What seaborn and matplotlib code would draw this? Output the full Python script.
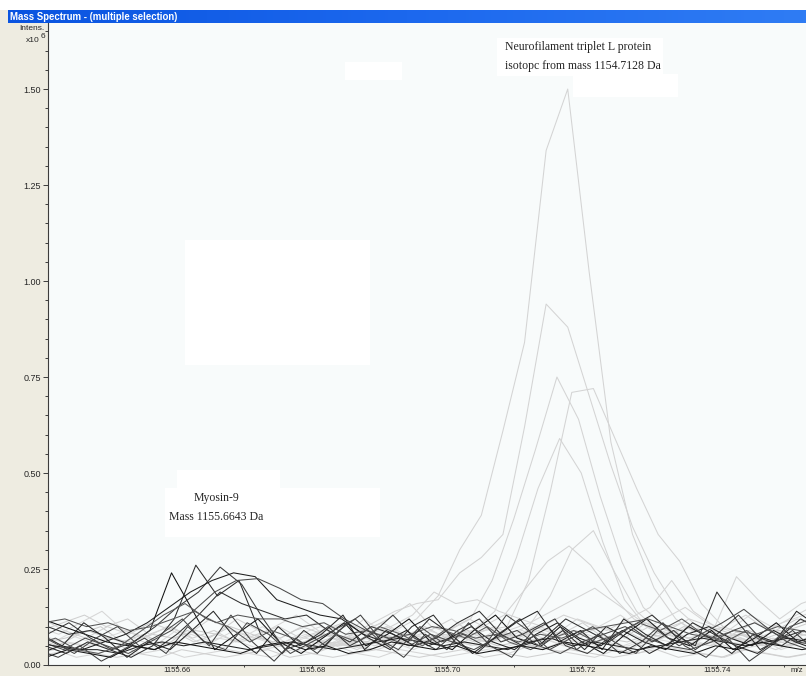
import numpy as np
import matplotlib
matplotlib.use("Agg")
import matplotlib.pyplot as plt
import seaborn as sns
from matplotlib.patches import Rectangle
from matplotlib.colors import LinearSegmentedColormap
from matplotlib.ticker import FormatStrFormatter, MultipleLocator

# m/z sampling step of the spectra
step = 0.0032

# dark spectra (Myosin-9 selection)
black_starts = [1155.6400, 1155.6404, 1155.6408, 1155.6396, 1155.6400, 1155.6408,
                1155.6386, 1155.6402, 1155.6392, 1155.6398, 1155.6388, 1155.6406, 1155.6384]
black_lines = [
    [0.12, 0.10, 0.08, 0.06, 0.05, 0.09, 0.24, 0.14, 0.04, 0.08, 0.12, 0.06, 0.03, 0.07, 0.11, 0.05, 0.08, 0.12, 0.06, 0.04,
     0.09, 0.13, 0.07, 0.05, 0.10, 0.06, 0.03, 0.08, 0.12, 0.07, 0.05, 0.09, 0.04, 0.07, 0.11, 0.06, 0.08],
    [0.05, 0.03, 0.06, 0.04, 0.02, 0.05, 0.12, 0.26, 0.18, 0.22, 0.08, 0.03, 0.09, 0.05, 0.11, 0.07, 0.04, 0.10, 0.13, 0.06,
     0.03, 0.08, 0.12, 0.05, 0.09, 0.04, 0.10, 0.07, 0.03, 0.06, 0.11, 0.08, 0.05, 0.03, 0.07, 0.12, 0.09],
    [0.08, 0.11, 0.07, 0.04, 0.06, 0.10, 0.15, 0.19, 0.255, 0.21, 0.12, 0.04, 0.06, 0.10, 0.05, 0.08, 0.13, 0.07, 0.04, 0.09,
     0.12, 0.06, 0.08, 0.11, 0.05, 0.03, 0.07, 0.10, 0.06, 0.09, 0.04, 0.08, 0.13, 0.07, 0.05, 0.09, 0.06],
    [0.03, 0.05, 0.04, 0.06, 0.08, 0.11, 0.15, 0.19, 0.22, 0.24, 0.23, 0.17, 0.15, 0.13, 0.12, 0.08, 0.06, 0.09, 0.05, 0.07,
     0.10, 0.06, 0.04, 0.08, 0.11, 0.07, 0.05, 0.09, 0.06, 0.04, 0.08, 0.10, 0.07, 0.05, 0.09, 0.06, 0.04],
    [0.06, 0.04, 0.07, 0.05, 0.03, 0.06, 0.09, 0.14, 0.19, 0.22, 0.225, 0.20, 0.17, 0.16, 0.12, 0.09, 0.07, 0.05, 0.08, 0.06,
     0.04, 0.07, 0.09, 0.05, 0.03, 0.06, 0.08, 0.10, 0.07, 0.05, 0.04, 0.06, 0.09, 0.11, 0.08, 0.06, 0.05],
    [0.10, 0.08, 0.09, 0.07, 0.05, 0.04, 0.08, 0.13, 0.19, 0.16, 0.14, 0.12, 0.13, 0.09, 0.06, 0.10, 0.08, 0.05, 0.07, 0.11,
     0.14, 0.08, 0.05, 0.07, 0.12, 0.09, 0.06, 0.10, 0.13, 0.08, 0.05, 0.19, 0.11, 0.04, 0.07, 0.09, 0.06],
    [0.06, 0.05, 0.04, 0.04, 0.03, 0.05, 0.06, 0.05, 0.06, 0.05, 0.04, 0.05, 0.06, 0.05, 0.04, 0.05, 0.06, 0.07, 0.06, 0.05,
     0.06, 0.05, 0.04, 0.06, 0.07, 0.05, 0.06, 0.05, 0.04, 0.05, 0.06, 0.07, 0.06, 0.05, 0.06, 0.07, 0.06],
    [0.11, 0.12, 0.10, 0.11, 0.09, 0.10, 0.12, 0.14, 0.11, 0.13, 0.12, 0.12, 0.10, 0.11, 0.08, 0.09, 0.07, 0.08, 0.10, 0.09,
     0.07, 0.08, 0.06, 0.08, 0.07, 0.09, 0.10, 0.11, 0.12, 0.10, 0.08, 0.07, 0.09, 0.08, 0.10, 0.09, 0.08],
    [0.04, 0.02, 0.05, 0.01, 0.04, 0.07, 0.03, 0.10, 0.05, 0.13, 0.06, 0.01, 0.07, 0.03, 0.09, 0.13, 0.06, 0.02, 0.08, 0.04,
     0.11, 0.05, 0.02, 0.09, 0.12, 0.04, 0.08, 0.03, 0.06, 0.11, 0.05, 0.02, 0.07, 0.01, 0.05, 0.09, 0.04],
    [0.08, 0.05, 0.11, 0.07, 0.02, 0.06, 0.04, 0.09, 0.14, 0.07, 0.03, 0.10, 0.05, 0.08, 0.13, 0.04, 0.09, 0.06, 0.12, 0.08,
     0.03, 0.07, 0.11, 0.14, 0.06, 0.09, 0.04, 0.12, 0.08, 0.05, 0.10, 0.07, 0.03, 0.08, 0.06, 0.14, 0.10],
    [0.05, 0.07, 0.04, 0.03, 0.05, 0.09, 0.13, 0.16, 0.12, 0.10, 0.06, 0.09, 0.07, 0.04, 0.08, 0.06, 0.10, 0.08, 0.05, 0.09,
     0.07, 0.10, 0.06, 0.04, 0.07, 0.09, 0.06, 0.08, 0.11, 0.09, 0.12, 0.08, 0.06, 0.09, 0.05, 0.10, 0.12],
    [0.02, 0.04, 0.03, 0.02, 0.05, 0.04, 0.06, 0.05, 0.04, 0.03, 0.05, 0.06, 0.04, 0.05, 0.03, 0.04, 0.06, 0.05, 0.04, 0.05,
     0.03, 0.04, 0.05, 0.04, 0.06, 0.05, 0.04, 0.03, 0.05, 0.04, 0.03, 0.05, 0.04, 0.06, 0.05, 0.04, 0.05],
    [0.09, 0.06, 0.03, 0.07, 0.10, 0.05, 0.08, 0.12, 0.06, 0.04, 0.11, 0.08, 0.03, 0.06, 0.09, 0.12, 0.07, 0.04, 0.10, 0.06,
     0.08, 0.05, 0.13, 0.09, 0.04, 0.07, 0.10, 0.06, 0.03, 0.09, 0.05, 0.08, 0.11, 0.145, 0.10, 0.06, 0.04],
]
black_colors = ["#111111", "#2b2b2b", "#3a3a3a", "#1e1e1e", "#4a4a4a", "#303030", "#222222",
                "#555555", "#3f3f3f", "#262626", "#5a5a5a", "#151515", "#484848"]

# light background spectra
gray_starts = [1155.6399, 1155.6405, 1155.6391, 1155.6387, 1155.6401, 1155.6407,
               1155.6403, 1155.6393, 1155.6383, 1155.6397]
gray_lines = [
    [0.09, 0.11, 0.13, 0.10, 0.12, 0.08, 0.10, 0.07, 0.09, 0.06, 0.08, 0.10, 0.07, 0.09, 0.11, 0.08, 0.10, 0.07, 0.09, 0.12,
     0.08, 0.10, 0.07, 0.09, 0.06, 0.08, 0.10, 0.07, 0.11, 0.09, 0.12, 0.10, 0.08, 0.11, 0.09, 0.12, 0.10],
    [0.04, 0.06, 0.05, 0.07, 0.05, 0.04, 0.06, 0.05, 0.07, 0.06, 0.04, 0.05, 0.07, 0.06, 0.05, 0.04, 0.06, 0.05, 0.07, 0.06,
     0.05, 0.04, 0.06, 0.07, 0.05, 0.06, 0.04, 0.05, 0.07, 0.06, 0.05, 0.06, 0.04, 0.05, 0.07, 0.06, 0.05],
    [0.07, 0.05, 0.08, 0.10, 0.06, 0.08, 0.05, 0.09, 0.07, 0.10, 0.08, 0.06, 0.09, 0.11, 0.07, 0.05, 0.08, 0.06, 0.10, 0.07,
     0.09, 0.06, 0.08, 0.05, 0.07, 0.09, 0.06, 0.08, 0.05, 0.07, 0.10, 0.08, 0.06, 0.09, 0.07, 0.05, 0.08],
    [0.03, 0.04, 0.02, 0.03, 0.05, 0.03, 0.04, 0.02, 0.03, 0.04, 0.03, 0.02, 0.04, 0.03, 0.05, 0.03, 0.02, 0.04, 0.03, 0.02,
     0.03, 0.04, 0.03, 0.05, 0.04, 0.03, 0.02, 0.04, 0.03, 0.05, 0.04, 0.03, 0.02, 0.04, 0.03, 0.02, 0.03],
    [0.12, 0.09, 0.07, 0.10, 0.08, 0.11, 0.09, 0.06, 0.08, 0.12, 0.09, 0.07, 0.10, 0.08, 0.06, 0.09, 0.12, 0.16, 0.10, 0.08,
     0.06, 0.09, 0.07, 0.10, 0.08, 0.11, 0.07, 0.09, 0.06, 0.08, 0.10, 0.07, 0.09, 0.06, 0.08, 0.10, 0.12],
    [0.05, 0.08, 0.06, 0.04, 0.07, 0.05, 0.09, 0.06, 0.04, 0.07, 0.10, 0.06, 0.08, 0.05, 0.07, 0.09, 0.06, 0.04, 0.07, 0.05,
     0.08, 0.06, 0.09, 0.07, 0.05, 0.08, 0.06, 0.04, 0.07, 0.09, 0.06, 0.08, 0.05, 0.07, 0.04, 0.06, 0.08],
    [0.06, 0.07, 0.09, 0.07, 0.06, 0.08, 0.07, 0.09, 0.08, 0.06, 0.07, 0.05, 0.06, 0.08, 0.07, 0.06, 0.05, 0.07, 0.06, 0.08,
     0.07, 0.05, 0.06, 0.04, 0.06, 0.05, 0.07, 0.06, 0.08, 0.07, 0.05, 0.06, 0.08, 0.07, 0.09, 0.08, 0.07],
    [0.10, 0.08, 0.11, 0.14, 0.09, 0.07, 0.10, 0.08, 0.12, 0.09, 0.07, 0.10, 0.13, 0.09, 0.06, 0.09, 0.11, 0.08, 0.06, 0.09,
     0.12, 0.09, 0.07, 0.10, 0.08, 0.12, 0.10, 0.13, 0.09, 0.12, 0.15, 0.11, 0.09, 0.13, 0.10, 0.12, 0.14],
    [0.02, 0.03, 0.04, 0.03, 0.02, 0.03, 0.02, 0.04, 0.03, 0.02, 0.03, 0.04, 0.02, 0.03, 0.02, 0.03, 0.04, 0.03, 0.02, 0.03,
     0.04, 0.02, 0.03, 0.02, 0.03, 0.04, 0.03, 0.02, 0.03, 0.04, 0.02, 0.03, 0.02, 0.04, 0.03, 0.02, 0.03],
    [0.08, 0.06, 0.05, 0.07, 0.09, 0.07, 0.05, 0.08, 0.06, 0.09, 0.07, 0.05, 0.08, 0.10, 0.07, 0.12, 0.08, 0.06, 0.09, 0.07,
     0.05, 0.08, 0.06, 0.09, 0.07, 0.06, 0.08, 0.05, 0.07, 0.09, 0.07, 0.05, 0.08, 0.06, 0.09, 0.07, 0.06],
]

# light spectra carrying the Neurofilament isotope peak (from m/z ~1155.68 on)
peak_starts = [1155.6795, 1155.6795, 1155.6779, 1155.6801, 1155.6783,
               1155.6801, 1155.6797, 1155.6789, 1155.6803]
peak_lines = [
    [0.05, 0.07, 0.06, 0.08, 0.09, 0.12, 0.18, 0.30, 0.39, 0.61, 0.84, 1.34, 1.50, 1.02, 0.58, 0.34, 0.20, 0.12, 0.08, 0.06,
     0.07, 0.05, 0.06, 0.08, 0.07],
    [0.06, 0.05, 0.08, 0.11, 0.14, 0.16, 0.17, 0.24, 0.28, 0.34, 0.62, 0.94, 0.88, 0.70, 0.52, 0.36, 0.24, 0.15, 0.10, 0.08,
     0.06, 0.07, 0.05, 0.06, 0.08],
    [0.04, 0.06, 0.05, 0.07, 0.06, 0.08, 0.07, 0.09, 0.12, 0.22, 0.38, 0.56, 0.75, 0.64, 0.44, 0.27, 0.15, 0.10, 0.07, 0.08,
     0.06, 0.05, 0.07, 0.06, 0.05],
    [0.07, 0.05, 0.06, 0.08, 0.07, 0.06, 0.08, 0.07, 0.09, 0.10, 0.22, 0.45, 0.71, 0.72, 0.59, 0.46, 0.34, 0.27, 0.16, 0.10,
     0.08, 0.06, 0.07, 0.09, 0.07],
    [0.05, 0.04, 0.06, 0.05, 0.07, 0.06, 0.08, 0.06, 0.09, 0.14, 0.28, 0.46, 0.59, 0.50, 0.32, 0.17, 0.10, 0.07, 0.06, 0.05,
     0.07, 0.06, 0.04, 0.06, 0.05],
    [0.04, 0.06, 0.05, 0.04, 0.06, 0.05, 0.07, 0.06, 0.05, 0.08, 0.10, 0.18, 0.30, 0.35, 0.24, 0.14, 0.09, 0.07, 0.10, 0.08,
     0.06, 0.05, 0.07, 0.06, 0.08],
    [0.06, 0.08, 0.07, 0.05, 0.07, 0.09, 0.06, 0.08, 0.10, 0.13, 0.20, 0.27, 0.31, 0.26, 0.18, 0.12, 0.09, 0.07, 0.05, 0.07,
     0.08, 0.06, 0.05, 0.07, 0.06],
    [0.07, 0.09, 0.11, 0.08, 0.10, 0.13, 0.19, 0.16, 0.17, 0.14, 0.12, 0.10, 0.13, 0.11, 0.09, 0.12, 0.15, 0.22, 0.14, 0.10,
     0.23, 0.17, 0.12, 0.16, 0.18],
    [0.05, 0.06, 0.04, 0.07, 0.06, 0.05, 0.08, 0.07, 0.06, 0.09, 0.11, 0.14, 0.17, 0.20, 0.16, 0.12, 0.09, 0.11, 0.08, 0.10,
     0.13, 0.09, 0.12, 0.15, 0.17],
]

x_major = [1155.66, 1155.68, 1155.70, 1155.72, 1155.74]
y_major = [0.00, 0.25, 0.50, 0.75, 1.00, 1.25, 1.50]

W, H = 806, 676
beige = "#eeece1"


def fx(px):
    return px / W


def fy(py):
    return 1 - py / H


sns.set_style("white")
plt.rcParams["font.family"] = ["Liberation Sans", "DejaVu Sans"]

fig = plt.figure(figsize=(W / 100, H / 100), dpi=100, facecolor=beige)

# white strip above window title
fig.patches.append(Rectangle((0, fy(10)), 1, 1 - fy(10), transform=fig.transFigure,
                             facecolor="white", edgecolor="none"))

# title bar
ax_t = fig.add_axes([fx(8), fy(23), 1 - fx(8), fy(10) - fy(23)])
cmap = LinearSegmentedColormap.from_list("xp", ["#0a54e0", "#1c68ee", "#2f7cf4"])
ax_t.imshow(np.linspace(0, 1, 256)[None, :], aspect="auto", cmap=cmap, extent=[0, 1, 0, 1])
ax_t.set_axis_off()
ax_t.text(0.003, 0.48, "Mass Spectrum - (multiple selection)", color="white", fontsize=6.9,
          fontweight="bold", va="center", ha="left", transform=ax_t.transAxes)

ax = fig.add_axes([fx(48), fy(665), fx(806) - fx(48), fy(23) - fy(665)])
ax.set_facecolor("#f8fbfb")

# pasted white boxes (behind the lines)
for (x0, y0, x1, y1) in [(185, 240, 370, 365), (497, 38, 663, 76), (573, 74, 678, 97),
                         (345, 62, 402, 80), (177, 470, 280, 488), (165, 488, 380, 537)]:
    fig.patches.append(Rectangle((fx(x0), fy(y1)), fx(x1) - fx(x0), fy(y0) - fy(y1),
                                 transform=fig.transFigure, facecolor="white",
                                 edgecolor="none", zorder=0.5))

gray_colors = ["#d0d0d0", "#dadada", "#cccccc", "#d6d6d6"]
for k, (s, vals) in enumerate(zip(gray_starts, gray_lines)):
    mz = s + step * np.arange(len(vals))
    sns.lineplot(x=mz, y=vals, ax=ax, color=gray_colors[k % 4], lw=0.75,
                 estimator=None, sort=False, legend=False)

for k, (s, vals) in enumerate(zip(peak_starts, peak_lines)):
    mz = s + step * np.arange(len(vals))
    sns.lineplot(x=mz, y=vals, ax=ax, color="#d4d4d4", lw=0.75,
                 estimator=None, sort=False, legend=False)

for s, vals, c in zip(black_starts, black_lines, black_colors):
    mz = s + step * np.arange(len(vals))
    sns.lineplot(x=mz, y=vals, ax=ax, color=c, lw=0.75,
                 estimator=None, sort=False, legend=False)

ax.set_xlim(1155.6409, 1155.7532)
ax.set_ylim(0, 1.672)
ax.set_xticks(x_major)
ax.set_yticks(y_major)
ax.xaxis.set_major_formatter(FormatStrFormatter("%.2f"))
ax.yaxis.set_major_formatter(FormatStrFormatter("%.2f"))
ax.xaxis.set_minor_locator(MultipleLocator(0.01))
ax.yaxis.set_minor_locator(MultipleLocator(0.05))
ax.set_xlabel("")
ax.set_ylabel("")

for side in ["top", "right"]:
    ax.spines[side].set_visible(False)
for side in ["left", "bottom"]:
    ax.spines[side].set_color("#3c3c3c")
    ax.spines[side].set_linewidth(0.8)

ax.tick_params(axis="y", which="major", direction="out", length=3.5, width=0.7,
               color="#3c3c3c", pad=1.5, labelsize=6.5, left=True)
ax.tick_params(axis="y", which="minor", direction="out", length=2, width=0.7,
               color="#3c3c3c", left=True)
ax.tick_params(axis="x", which="major", direction="out", length=1.2, width=0.7,
               color="#3c3c3c", pad=0.2, labelsize=5.6, bottom=True)
ax.tick_params(axis="x", which="minor", direction="out", length=1.5, width=0.7,
               color="#3c3c3c", bottom=True)

# axis captions
fig.text(fx(45), fy(29), "Intens.", fontsize=6, ha="right", va="center")
fig.text(fx(40), fy(41), "x10", fontsize=6, ha="right", va="center")
fig.text(fx(40.5), fy(36), "6", fontsize=6, ha="left", va="center")
fig.text(fx(803), fy(670), "m/z", fontsize=5.6, ha="right", va="center")

# annotations
serif = ["Liberation Serif", "DejaVu Serif"]
fig.text(fx(505), fy(47), "Neurofilament triplet L protein", fontsize=8.5,
         family=serif, ha="left", va="center")
fig.text(fx(505), fy(66), "isotopc from mass 1154.7128 Da", fontsize=8.5,
         family=serif, ha="left", va="center")
fig.text(fx(216), fy(498), "Myosin-9", fontsize=8.5, family=serif, ha="center", va="center")
fig.text(fx(216), fy(517), "Mass 1155.6643 Da", fontsize=8.5, family=serif,
         ha="center", va="center")

fig.savefig("out.png", dpi=100, facecolor=fig.get_facecolor())
